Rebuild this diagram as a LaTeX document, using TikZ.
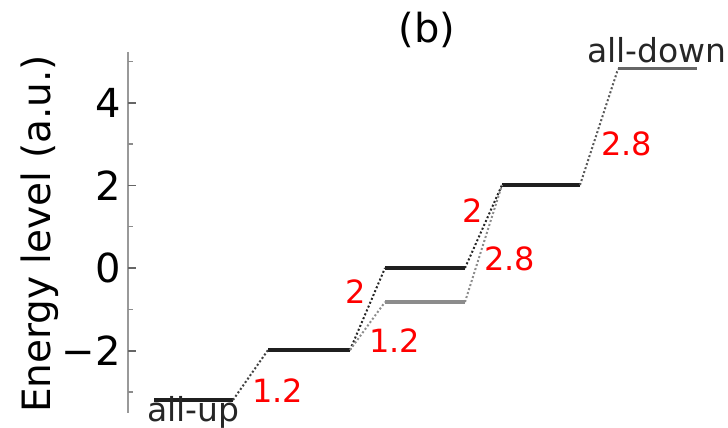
\documentclass[tikz,border=0pt]{standalone}
\usepackage{fontspec}
\setmainfont{DejaVu Sans}
\begin{document}
\begin{tikzpicture}[x=1pt,y=-1pt,
  lvl/.style={line width=3.2pt, draw=black!88, line cap=butt},
  lvlgray/.style={line width=3.6pt, draw=black!45},
  lvldown/.style={line width=3pt, draw=black!60},
  trans/.style={line width=2pt, dash pattern=on 2pt off 2.2pt},
  redlbl/.style={text=red, font=\fontsize{32}{38}\selectfont, inner sep=0pt, anchor=base west},
  blklbl/.style={text=black!85, font=\fontsize{33}{40}\selectfont, inner sep=0pt, anchor=base west},
  ticklbl/.style={text=black, font=\fontsize{40}{48}\selectfont, inner sep=0pt, anchor=east},
  majtick/.style={draw=black!60, line width=1.8pt},
  axisline/.style={draw=black!40, line width=2.2pt}]
\useasboundingbox (0,0) rectangle (728,428);
% axis
\coordinate (axT) at (128,52);
\coordinate (axB) at (128,413);
\draw[axisline] (axT) -- (axB);
\foreach \v/\lab in {4/4,2/2,0/0,-2/−2}{
  \draw[majtick] (128,268-41.3*\v) -- ++(8,0);
  \node[ticklbl] (t\v) at (121,268-41.3*\v) {\lab};
}
\foreach \v in {5,3,1,-1,-3}{
  \draw[majtick, draw=black!45, line width=1.5pt] (128,268-41.3*\v) -- ++(5,0);
}
\node[rotate=90, anchor=base, inner sep=0pt, font=\fontsize{39}{46}\selectfont] (ylab) at (50,234) {Energy level (a.u.)};
\node[inner sep=0pt, anchor=base, font=\fontsize{40}{48}\selectfont] (title) at (427,43) {(b)};
% levels
\coordinate (upL) at (154,400); \coordinate (upR) at (233,400);
\coordinate (mL) at (268,350);  \coordinate (mR) at (350,350);
\coordinate (zL) at (385,268);  \coordinate (zR) at (465,268);
\coordinate (gL) at (385,302);  \coordinate (gR) at (465,302);
\coordinate (tL) at (502,185);  \coordinate (tR) at (580,185);
\coordinate (dL) at (618,69);   \coordinate (dR) at (697,69);
\draw[lvl] (upL) -- (upR);
\draw[lvl] (mL) -- (mR);
\draw[lvl] (zL) -- (zR);
\draw[lvlgray] (gL) -- (gR);
\draw[lvl] (tL) -- (tR);
\draw[lvldown] (dL) -- (dR);
% transitions
\draw[trans, black!75] (upR) -- (mL);
\draw[trans, black!85] (mR) -- (zL);
\draw[trans, black!45] (mR) -- (gL);
\draw[trans, black!85] (zR) -- (tL);
\draw[trans, black!45] (gR) -- (tL);
\draw[trans, black!65] (tR) -- (dL);
% labels
\node[blklbl] (allup) at (147,421) {all-up};
\node[blklbl] (alldown) at (587,63) {all-down};
\node[redlbl] (r1) at (252,402) {1.2};
\node[redlbl] (r2) at (369,352) {1.2};
\node[redlbl] (r3) at (345,303) {2};
\node[redlbl] (r4) at (462,222) {2};
\node[redlbl] (r5) at (484,270) {2.8};
\node[redlbl] (r6) at (601,155) {2.8};
\end{tikzpicture}
\end{document}
